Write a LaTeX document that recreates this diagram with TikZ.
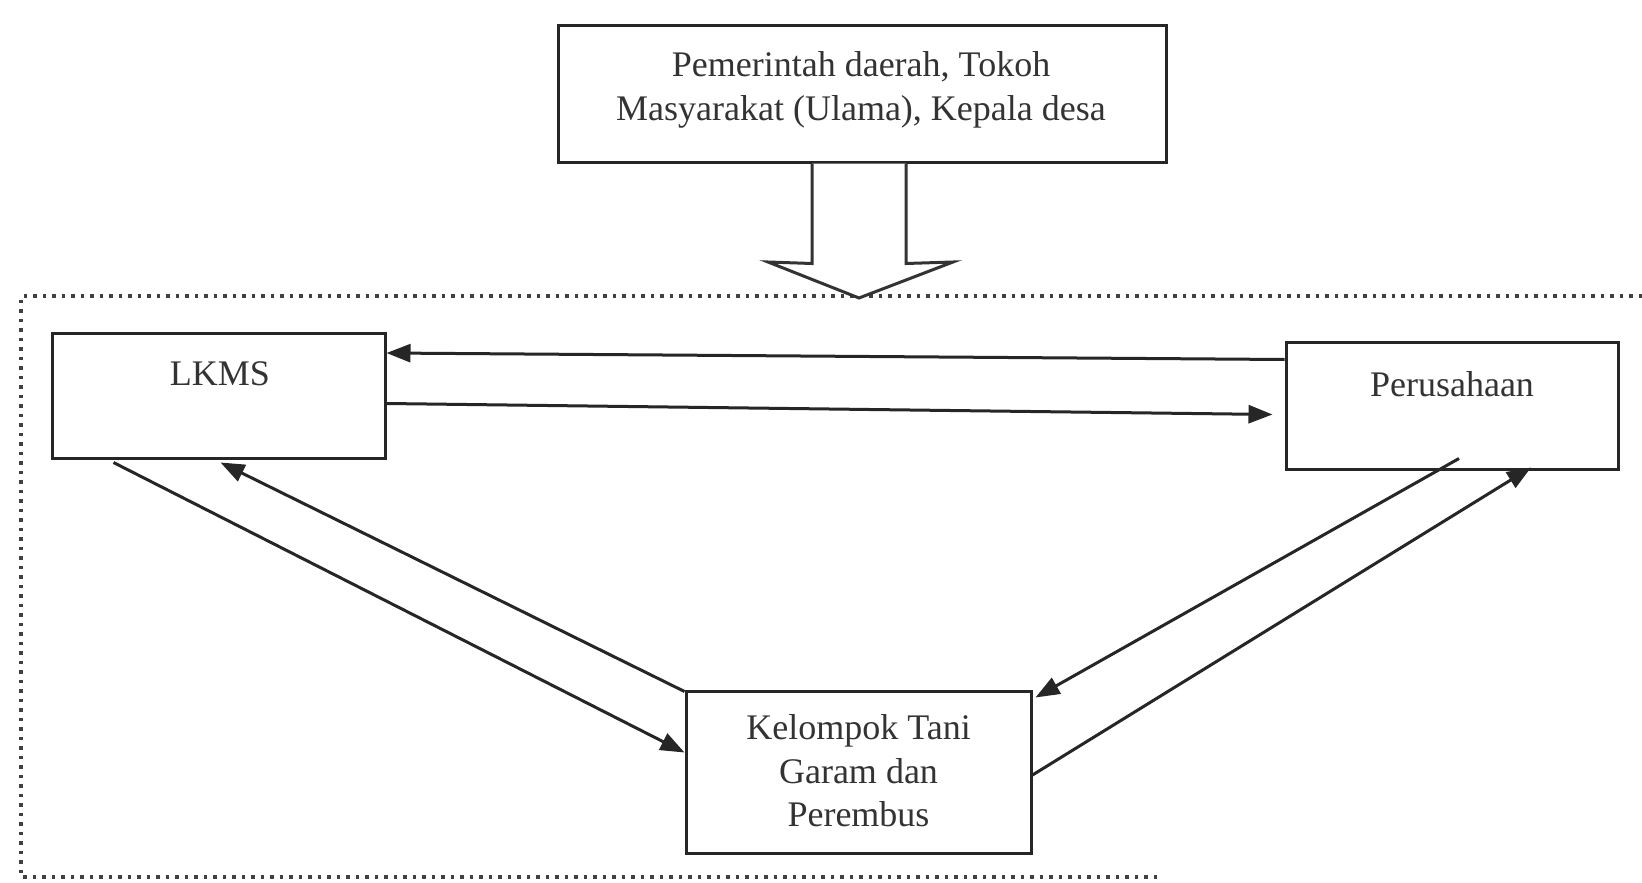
\documentclass[tikz,border=0pt]{standalone}
\usepackage{fontspec}
\setmainfont{Liberation Serif}
\usetikzlibrary{arrows.meta,calc}
\begin{document}
\begin{tikzpicture}[x=1pt,y=-1pt,
  box/.style={draw=black!85, line width=3pt, inner sep=0pt, fill=white},
  txt/.style={text=black!80, font=\fontsize{36}{43.5}\selectfont, align=center, inner sep=0pt},
  link/.style={draw=black!85, line width=3pt, -{Triangle[length=24pt,width=18pt]}},
  frame/.style={draw=black!75, line width=3.5pt, dash pattern=on 3.5pt off 6pt},
  hollow/.style={draw=black!80, line width=3pt, fill=white, line join=miter}]
\useasboundingbox (0,0) rectangle (1642,883);
\fill[white] (0,0) rectangle (1642,883);

% dotted frame
\coordinate (ftr) at (1642,296);
\coordinate (ftl) at (21,296);
\coordinate (fbl) at (21,877);
\coordinate (fbr) at (1162,877);
\draw[frame] (ftr) -- (ftl) -- (fbl) -- (fbr);

% boxes
\node[box, minimum width=608pt, minimum height=136pt] (top) at (862,94) {};
\node[txt] (topT) at (861,90) {Pemerintah daerah, Tokoh\\Masyarakat (Ulama), Kepala desa};

\node[box, minimum width=333pt, minimum height=125pt] (lkms) at (218.5,395.5) {};
\node[txt] (lkmsT) at (220,374) {LKMS};

\node[box, minimum width=332pt, minimum height=127pt] (perus) at (1452,405.5) {};
\node[txt] (perusT) at (1452,384) {Perusahaan};

\node[box, minimum width=345pt, minimum height=162pt] (kel) at (858.5,772) {};
\node[txt] (kelT) at (858.5,771) {Kelompok Tani\\Garam dan\\Perembus};

% hollow arrow
\coordinate (hL) at ($(top.south)+(-50,0)$);
\coordinate (hR) at ($(top.south)+(44,0)$);
\draw[hollow] (hL) -- ++(0,100) -- (768,262) -- (859,298) -- (953,262) -- ($(hR)+(0,100)$) -- (hR);

% connectors
\draw[link] ($(perus.north west)+(0,19)$) -- (lkms.east |- 0,353);
\draw[link] ($(lkms.north east)+(0,72)$) -- ($(perus.north west)+(-12,74)$);
\draw[link] ($(lkms.south west)+(63,3)$) -- ($(kel.north west)+(0,63)$);
\draw[link] ($(kel.north west)+(0,2)$) -- ($(lkms.south)+(2,3)$);
\draw[link] ($(perus.south)+(7,-12)$) -- ($(kel.north east)+(3,8)$);
\draw[link] ($(kel.east)+(0,3)$) -- ($(perus.south)+(79,-3)$);
\end{tikzpicture}
\end{document}
